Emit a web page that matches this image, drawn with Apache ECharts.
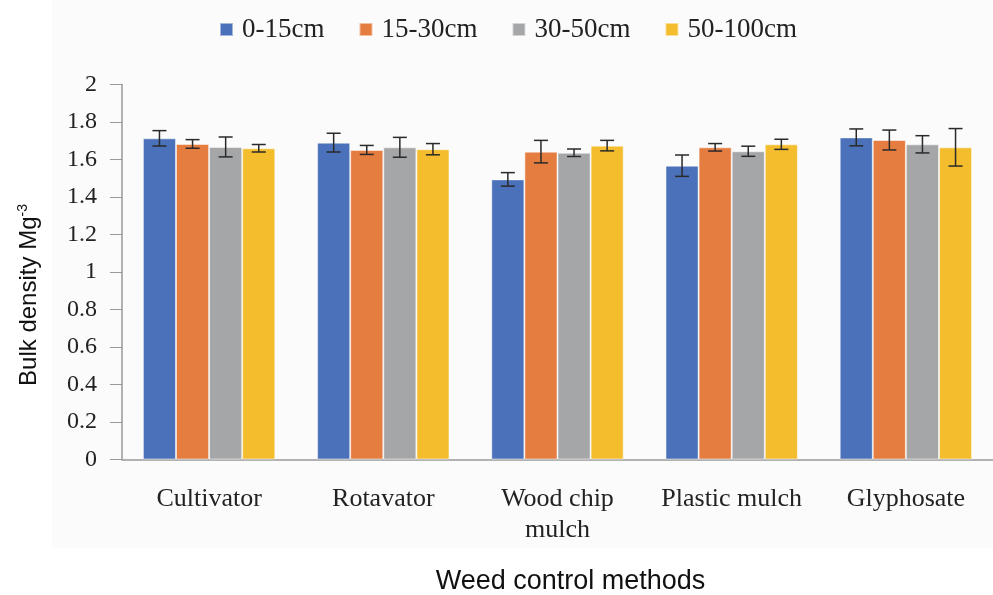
<!DOCTYPE html>
<html><head><meta charset="utf-8">
<script src="https://cdn.jsdelivr.net/npm/echarts@6/dist/echarts.min.js"></script>
<style>html,body{margin:0;padding:0;background:#fff}#c{width:993px;height:595px}</style>
</head><body><div id="c"></div>
<script>
const categories = ['Cultivator', 'Rotavator', 'Wood chip\nmulch', 'Plastic mulch', 'Glyphosate'];
const seriesNames = ['0-15cm', '15-30cm', '30-50cm', '50-100cm'];
const colors = ['#4a71b9', '#e57c40', '#a5a6a8', '#f4bd2e'];
const d0_15 = [1.713, 1.690, 1.494, 1.567, 1.718];
const d15_30 = [1.683, 1.651, 1.642, 1.665, 1.704];
const d30_50 = [1.667, 1.665, 1.636, 1.644, 1.681];
const d50_100 = [1.660, 1.655, 1.674, 1.681, 1.665];
const e0_15 = [0.041, 0.050, 0.036, 0.057, 0.045];
const e15_30 = [0.023, 0.024, 0.060, 0.020, 0.053];
const e30_50 = [0.053, 0.053, 0.020, 0.027, 0.046];
const e50_100 = [0.020, 0.030, 0.028, 0.027, 0.100];
const yTicks = [0, 0.2, 0.4, 0.6, 0.8, 1, 1.2, 1.4, 1.6, 1.8, 2];

const values = [d0_15, d15_30, d30_50, d50_100];
const errors = [e0_15, e15_30, e30_50, e50_100];

const chart = echarts.init(document.getElementById('c'));
const barCategoryGap = 0.24;
const series = [];
values.forEach((vals, si) => {
  series.push({
    name: seriesNames[si], type: 'bar', data: vals,
    barGap: '0%', barCategoryGap: (barCategoryGap * 100) + '%',
    itemStyle: { color: colors[si], borderColor: 'rgba(255,255,255,0.5)', borderWidth: 1 },
    z: 2
  });
});
values.forEach((vals, si) => {
  series.push({
    type: 'custom', name: 'err' + si, silent: true, z: 5,
    data: vals.map((v, i) => [i, v - errors[si][i], v + errors[si][i]]),
    renderItem: function (params, api) {
      const ci = api.value(0);
      const lo = api.coord([ci, api.value(1)]);
      const hi = api.coord([ci, api.value(2)]);
      const bandW = api.size([1, 0])[0];
      const inner = bandW * (1 - barCategoryGap);
      const bw = inner / 4;
      const x = lo[0] - inner / 2 + bw * (si + 0.5);
      const cap = 7;
      const st = { stroke: '#2a2a2a', lineWidth: 1.5 };
      return { type: 'group', children: [
        { type: 'line', shape: { x1: x, y1: lo[1], x2: x, y2: hi[1] }, style: st },
        { type: 'line', shape: { x1: x - cap, y1: lo[1], x2: x + cap, y2: lo[1] }, style: st },
        { type: 'line', shape: { x1: x - cap, y1: hi[1], x2: x + cap, y2: hi[1] }, style: st }
      ]};
    }
  });
});

chart.setOption({
  backgroundColor: '#ffffff',
  animation: false,
  graphic: [{ type: 'rect', shape: { x: 52, y: 0, width: 941, height: 548 }, style: { fill: '#fbfbfb' }, z: -10 }],
  legend: {
    data: seriesNames.map((n, i) => ({ name: n, itemStyle: { color: colors[i] } })),
    top: 11, left: 214, itemWidth: 13, itemHeight: 13, itemGap: 34,
    icon: 'rect',
    textStyle: { fontFamily: 'Liberation Serif', fontSize: 27, color: '#222', padding: [0, 0, 0, 4] }
  },
  grid: { left: 122, right: 0, top: 84.5, bottom: 135.5, containLabel: false, outerBoundsMode: 'none' },
  xAxis: {
    type: 'category', data: categories,
    axisLine: { lineStyle: { color: '#999', width: 1.5 } },
    axisTick: { show: false },
    axisLabel: { fontFamily: 'Liberation Serif', fontSize: 26, color: '#222', margin: 24, lineHeight: 31, interval: 0 },
    name: 'Weed control methods', nameLocation: 'middle', nameGap: 109,
    nameTextStyle: { fontFamily: 'Liberation Sans', fontSize: 27, color: '#111', padding: [0, 0, 0, 26] }
  },
  yAxis: {
    type: 'value', min: 0, max: 2, interval: 0.2,
    splitLine: { show: false },
    axisLine: { show: true, lineStyle: { color: '#999', width: 1.5 } },
    axisTick: { show: true, length: 12, lineStyle: { color: '#999' } },
    axisLabel: { fontFamily: 'Liberation Serif', fontSize: 24, color: '#222', margin: 25,
      formatter: v => { const t = yTicks.find(x => Math.abs(x - v) < 1e-9); return String(t !== undefined ? t : v); } },
    name: 'Bulk density Mg{sup|-3}', nameLocation: 'middle', nameGap: 80,
    nameTextStyle: { fontFamily: 'Liberation Sans', fontSize: 24, color: '#111', padding: [0, 46, 0, 0],
      rich: { sup: { fontFamily: 'Liberation Sans', fontSize: 14, color: '#111', verticalAlign: 'top', padding: [0, 0, 12, 0] } } }
  },
  series: series
});
</script></body></html>
